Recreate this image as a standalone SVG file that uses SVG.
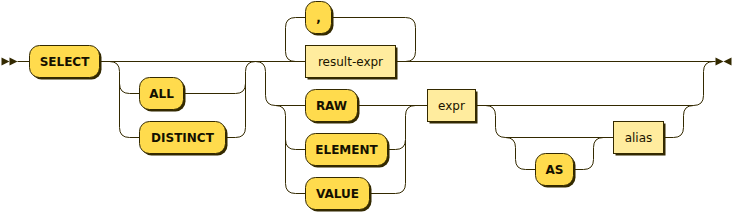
<svg xmlns="http://www.w3.org/2000/svg" width="733" height="213" viewBox="0 0 733 213">
<style>
.line{fill:none;stroke:#332900;stroke-width:1}
.arrow{fill:#332900;stroke:none}
.shadow{fill:#332900}
rect.terminal{fill:#FFDB4D;stroke:#332900;stroke-width:1}
rect.nonterminal{fill:#FFEC9E;stroke:#332900;stroke-width:1}
text{font-family:"DejaVu Sans","Liberation Sans",sans-serif;font-size:12px;text-anchor:middle}
text.terminal{font-weight:bold;fill:#141000}
text.nonterminal{fill:#1A1400}
</style>
<rect width="733" height="213" fill="#ffffff"/>
<g transform="translate(0.5 0.5)">
<g id="connectors">
<polygon class="arrow" points="9 61 1 57 1 65"/>
<polygon class="arrow" points="17 61 9 57 9 65"/>
<path class="line" d="M17 61 H29"/>
<path class="line" d="M99 61 H305"/>
<path class="line" d="M395 61 H715"/>
<path class="line" d="M109 61 Q119 61 119 71 V127 Q119 137 129 137 H139"/>
<path class="line" d="M119 83 Q119 93 129 93 H139"/>
<path class="line" d="M183 93 H235 Q245 93 245 83"/>
<path class="line" d="M225 137 H235 Q245 137 245 127 V71 Q245 61 255 61"/>
<path class="line" d="M395 61 H405 Q415 61 415 51 V27 Q415 17 405 17 H331"/>
<path class="line" d="M305 17 H295 Q285 17 285 27 V51 Q285 61 295 61"/>
<path class="line" d="M255 61 Q265 61 265 71 V95 Q265 105 275 105 H305"/>
<path class="line" d="M275 105 Q285 105 285 115 V183 Q285 193 295 193 H305"/>
<path class="line" d="M285 139 Q285 149 295 149 H305"/>
<path class="line" d="M357 105 H427"/>
<path class="line" d="M387 149 H395 Q405 149 405 139 V115 Q405 105 415 105"/>
<path class="line" d="M369 193 H395 Q405 193 405 183 V139"/>
<path class="line" d="M475 105 H693 Q703 105 703 95 V71 Q703 61 713 61"/>
<path class="line" d="M485 105 Q495 105 495 115 V127 Q495 137 505 137 H613"/>
<path class="line" d="M505 137 Q515 137 515 147 V159 Q515 169 525 169 H535"/>
<path class="line" d="M573 169 H583 Q593 169 593 159 V147 Q593 137 603 137"/>
<path class="line" d="M663 137 H673 Q683 137 683 127 V115 Q683 105 693 105"/>
<polygon class="arrow" points="723 61 731 57 731 65"/>
<polygon class="arrow" points="723 61 715 57 715 65"/>
</g>
<g id="select"><rect class="shadow" x="31" y="47" width="70" height="32" rx="10"/><rect class="terminal" x="29" y="45" width="70" height="32" rx="10"/><text class="terminal" x="64" y="65">SELECT</text></g>
<g id="all"><rect class="shadow" x="141" y="79" width="44" height="32" rx="10"/><rect class="terminal" x="139" y="77" width="44" height="32" rx="10"/><text class="terminal" x="161" y="97">ALL</text></g>
<g id="distinct"><rect class="shadow" x="141" y="123" width="86" height="32" rx="10"/><rect class="terminal" x="139" y="121" width="86" height="32" rx="10"/><text class="terminal" x="182" y="141">DISTINCT</text></g>
<g id="comma"><rect class="shadow" x="307" y="3" width="26" height="32" rx="10"/><rect class="terminal" x="305" y="1" width="26" height="32" rx="10"/><text class="terminal" x="318" y="21">,</text></g>
<g id="result-expr"><rect class="shadow" x="307" y="47" width="90" height="32"/><rect class="nonterminal" x="305" y="45" width="90" height="32"/><text class="nonterminal" x="350" y="65">result-expr</text></g>
<g id="raw"><rect class="shadow" x="307" y="91" width="52" height="32" rx="10"/><rect class="terminal" x="305" y="89" width="52" height="32" rx="10"/><text class="terminal" x="331" y="109">RAW</text></g>
<g id="element"><rect class="shadow" x="307" y="135" width="82" height="32" rx="10"/><rect class="terminal" x="305" y="133" width="82" height="32" rx="10"/><text class="terminal" x="346" y="153">ELEMENT</text></g>
<g id="value"><rect class="shadow" x="307" y="179" width="64" height="32" rx="10"/><rect class="terminal" x="305" y="177" width="64" height="32" rx="10"/><text class="terminal" x="337" y="197">VALUE</text></g>
<g id="expr"><rect class="shadow" x="429" y="91" width="48" height="32"/><rect class="nonterminal" x="427" y="89" width="48" height="32"/><text class="nonterminal" x="451" y="109">expr</text></g>
<g id="as"><rect class="shadow" x="537" y="155" width="38" height="32" rx="10"/><rect class="terminal" x="535" y="153" width="38" height="32" rx="10"/><text class="terminal" x="554" y="173">AS</text></g>
<g id="alias"><rect class="shadow" x="615" y="123" width="50" height="32"/><rect class="nonterminal" x="613" y="121" width="50" height="32"/><text class="nonterminal" x="638" y="141">alias</text></g>
</g>
</svg>
